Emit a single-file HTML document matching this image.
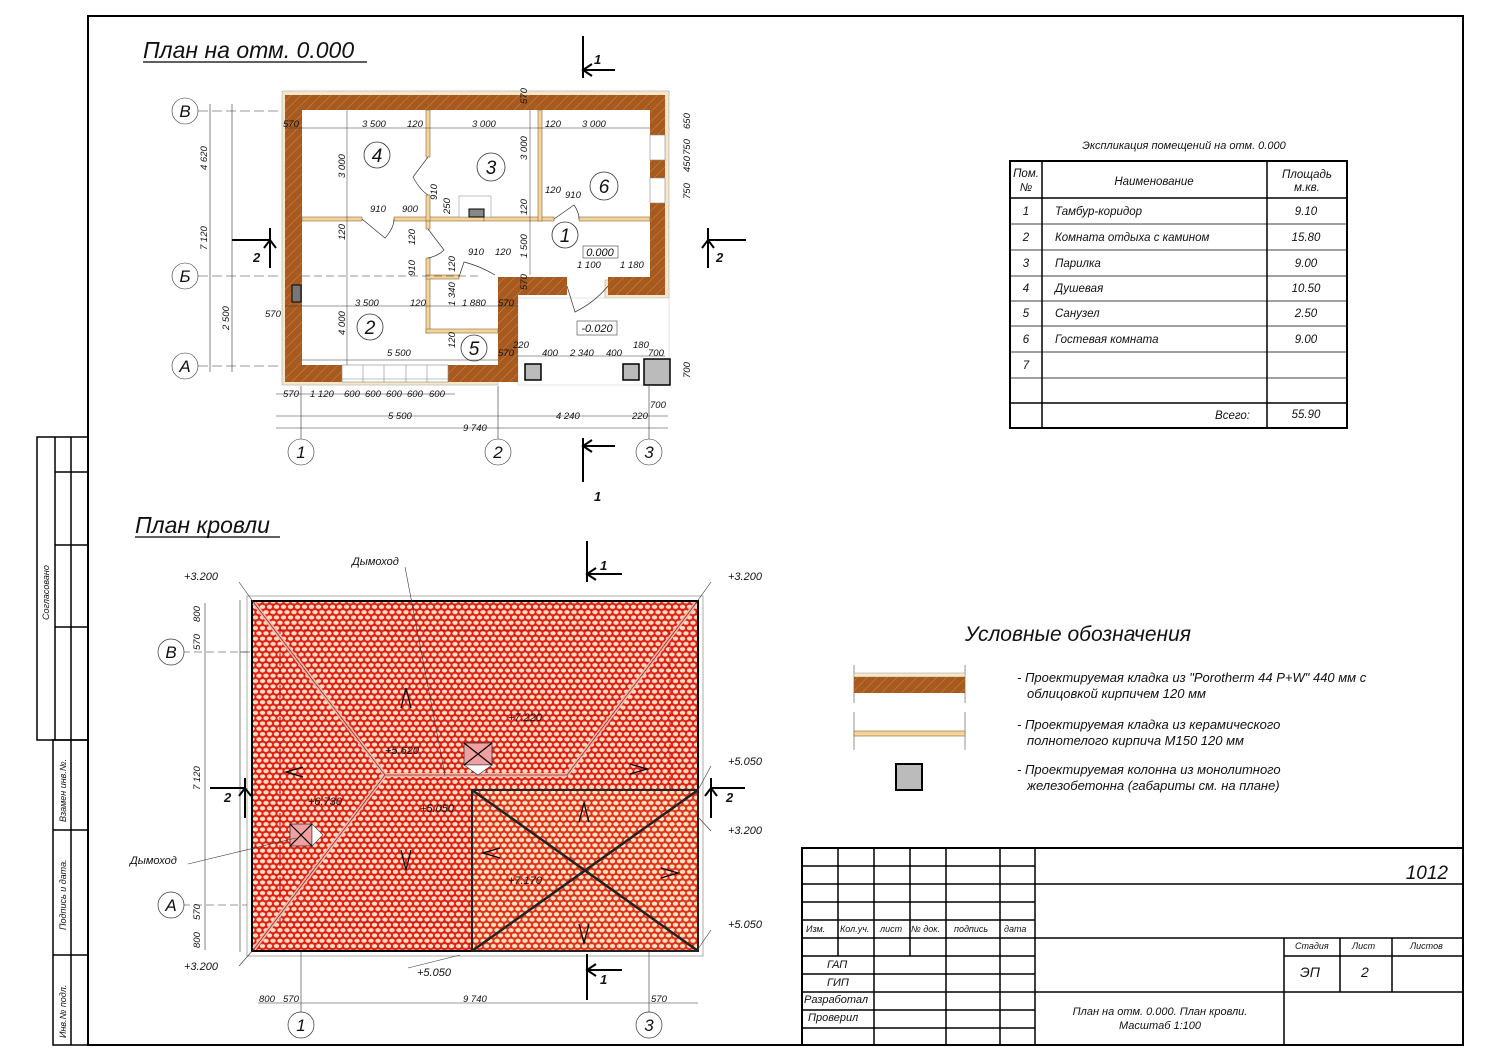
<!DOCTYPE html>
<html><head><meta charset="utf-8"><style>
html,body{margin:0;padding:0;background:#fff;}
svg{display:block;}
text{font-family:"Liberation Sans",sans-serif;font-style:italic;fill:#111;}
.d{font-size:9.5px;}
</style></head><body>
<svg width="1500" height="1061" viewBox="0 0 1500 1061" xmlns="http://www.w3.org/2000/svg">
<defs>
<pattern id="hatch" width="7" height="7" patternUnits="userSpaceOnUse" patternTransform="rotate(45)">
<rect width="7" height="7" fill="#a85a1e"/><line x1="0" y1="0" x2="0" y2="7" stroke="#c98a55" stroke-width="1"/>
</pattern>
<pattern id="tile" width="7" height="10.6" patternUnits="userSpaceOnUse">
<rect width="7" height="10.6" fill="#e01e12"/>
<ellipse cx="3.5" cy="2.65" rx="2.7" ry="2.0" fill="#fddcc4"/>
<ellipse cx="0" cy="7.95" rx="2.7" ry="2.0" fill="#fddcc4"/>
<ellipse cx="7" cy="7.95" rx="2.7" ry="2.0" fill="#fddcc4"/>
</pattern>
<pattern id="tile2" width="7" height="10.6" patternUnits="userSpaceOnUse">
<rect width="7" height="10.6" fill="#e0301a"/>
<ellipse cx="3.5" cy="2.65" rx="2.7" ry="2.0" fill="#fde2c0"/>
<ellipse cx="0" cy="7.95" rx="2.7" ry="2.0" fill="#fde2c0"/>
<ellipse cx="7" cy="7.95" rx="2.7" ry="2.0" fill="#fde2c0"/>
</pattern>
</defs>

<!-- frame -->
<rect x="88" y="16" width="1375" height="1029" fill="none" stroke="#000" stroke-width="2"/>
<g stroke="#000" stroke-width="1.5" fill="none">
<rect x="37" y="437" width="51" height="303"/>
<line x1="55" y1="437" x2="55" y2="740"/><line x1="71" y1="437" x2="71" y2="740"/>
<line x1="55" y1="472" x2="88" y2="472"/><line x1="55" y1="545" x2="88" y2="545"/><line x1="55" y1="627" x2="88" y2="627"/>
<rect x="53" y="740" width="35" height="305"/>
<line x1="71" y1="740" x2="71" y2="1045"/>
<line x1="53" y1="830" x2="88" y2="830"/><line x1="53" y1="955" x2="88" y2="955"/>
</g>
<text font-size="9" transform="translate(49,620) rotate(-90)">Согласовано</text>
<text font-size="9" transform="translate(66,822) rotate(-90)">Взамен инв.№.</text>
<text font-size="9" transform="translate(66,930) rotate(-90)">Подпись и дата.</text>
<text font-size="9" transform="translate(66,1038) rotate(-90)">Инв.№ подл.</text>

<!-- titles -->
<text x="143" y="58" font-size="23">План на отм. 0.000</text>
<line x1="143" y1="62" x2="367" y2="62" stroke="#000" stroke-width="1.2"/>
<text x="135" y="533" font-size="23">План кровли</text>
<line x1="135" y1="537" x2="280" y2="537" stroke="#000" stroke-width="1.2"/>

<!-- ============ FLOOR PLAN ============ -->
<g>
<path d="M282,91 H669 V298 H605 V280 H646 V106 H306 V361 H498 V385 H282 Z" fill="#f7e6c8" stroke="#bbb" stroke-width="0.8"/>
<path d="M518,298 H669 V385 H518 Z" fill="#fff" stroke="#ccc" stroke-width="0.6"/>
<!-- outer walls -->
<path d="M285,95 H665 V295 H608 V277 H650 V110 H302 V365 H342 V382 H285 Z" fill="url(#hatch)"/>
<rect x="448" y="365" width="70" height="17" fill="url(#hatch)"/>
<rect x="498" y="277" width="20" height="105" fill="url(#hatch)"/>
<rect x="498" y="277" width="69" height="18" fill="url(#hatch)"/>
<rect x="302" y="110" width="348" height="255" fill="none"/>
<path d="M302,110 H650 V277 H498 V365 H302 Z" fill="#fff"/>
<!-- windows on right -->
<rect x="650" y="135" width="15" height="25" fill="#fff" stroke="#888" stroke-width="0.6"/>
<rect x="650" y="178" width="15" height="25" fill="#fff" stroke="#888" stroke-width="0.6"/>
<!-- bottom window -->
<rect x="342" y="365" width="106" height="17" fill="#fff" stroke="#888" stroke-width="0.6"/>
<g stroke="#888" stroke-width="0.6"><line x1="363" y1="365" x2="363" y2="382"/><line x1="384" y1="365" x2="384" y2="382"/><line x1="406" y1="365" x2="406" y2="382"/><line x1="427" y1="365" x2="427" y2="382"/><line x1="342" y1="379" x2="448" y2="379"/></g>
<!-- partitions -->
<g fill="#f3d49c" stroke="#8a6a3a" stroke-width="0.6">
<rect x="302" y="217" width="60" height="4"/>
<rect x="394" y="217" width="90" height="4"/>
<rect x="484" y="217" width="70" height="4"/>
<rect x="579" y="217" width="71" height="4"/>
<rect x="426" y="110" width="4" height="47"/>
<rect x="426" y="195" width="4" height="26"/>
<rect x="426" y="221" width="4" height="8"/>
<rect x="538" y="110" width="4" height="111"/>
<rect x="426" y="258" width="4" height="75"/>
<rect x="426" y="329" width="72" height="4"/>
<rect x="426" y="275" width="33" height="4"/>
</g>
<!-- doors -->
<g fill="none" stroke="#333" stroke-width="0.7">
<path d="M362,219 L385,238 Q394,228 394,219"/>
<path d="M428,157 L413,177 Q420,190 428,195"/>
<path d="M428,229 L444,250 Q438,256 428,258"/>
<path d="M459,277 L464,262 Q480,266 495,275"/>
<path d="M554,219 L574,205 Q579,212 579,219"/>
<path d="M567,286 L575,312 Q595,302 608,286"/>
</g>
<!-- stove -->
<rect x="459" y="196" width="32" height="21" fill="#fff" stroke="#999" stroke-width="0.6"/>
<rect x="469" y="209" width="15" height="8" fill="#888" stroke="#000" stroke-width="1"/>
<rect x="292" y="285" width="9" height="17" fill="#777" stroke="#000" stroke-width="1"/>
<!-- columns -->
<g stroke="#000" stroke-width="1.5" fill="#bbb">
<rect x="525" y="364" width="16" height="16"/>
<rect x="623" y="364" width="16" height="16"/>
<rect x="644" y="359" width="26" height="26"/>
</g>
<!-- room labels -->
<g fill="#fff" stroke="#333" stroke-width="0.8">
<circle cx="377" cy="155" r="13"/><circle cx="491" cy="167" r="14"/><circle cx="604" cy="186" r="14"/>
<circle cx="565" cy="235" r="13"/><circle cx="370" cy="327" r="13"/><circle cx="474" cy="348" r="13"/>
</g>
<g font-size="19" text-anchor="middle" style="font-style:normal">
<text x="377" y="162">4</text><text x="491" y="174">3</text><text x="604" y="193">6</text>
<text x="565" y="242">1</text><text x="370" y="334">2</text><text x="474" y="355">5</text>
</g>
<rect x="583" y="246" width="35" height="12" fill="#fff" stroke="#444" stroke-width="0.6"/>
<text x="600" y="256" font-size="11" text-anchor="middle">0.000</text>
<rect x="577" y="321" width="40" height="14" fill="#fff" stroke="#444" stroke-width="0.6"/>
<text x="597" y="332" font-size="11" text-anchor="middle">-0.020</text>
<!-- interior dim lines -->
<g stroke="#333" stroke-width="0.5">
<line x1="285" y1="128" x2="650" y2="128"/>
<line x1="347" y1="110" x2="347" y2="365"/>
<line x1="530" y1="110" x2="530" y2="275"/>
<line x1="285" y1="306" x2="518" y2="306"/>
<line x1="302" y1="360" x2="498" y2="360"/>
<line x1="518" y1="356" x2="665" y2="356"/>
<line x1="302" y1="276" x2="480" y2="276" stroke-dasharray="8 4"/>
</g>
<g class="d">
<text x="283" y="127" class="d">570</text><text x="362" y="127" class="d">3 500</text><text x="407" y="127" class="d">120</text>
<text x="472" y="127" class="d">3 000</text><text x="545" y="127" class="d">120</text><text x="582" y="127" class="d">3 000</text>
<text x="370" y="212" class="d">910</text><text x="402" y="212" class="d">900</text>
<text x="545" y="193" class="d">120</text><text x="565" y="198" class="d">910</text>
<text x="468" y="255" class="d">910</text><text x="495" y="255" class="d">120</text>
<text x="577" y="268" class="d">1 100</text><text x="620" y="268" class="d">1 180</text>
<text x="355" y="306" class="d">3 500</text><text x="410" y="306" class="d">120</text>
<text x="462" y="306" class="d">1 880</text><text x="498" y="306" class="d">570</text>
<text x="387" y="356" class="d">5 500</text><text x="498" y="356" class="d">570</text>
<text x="513" y="348" class="d">220</text><text x="542" y="356" class="d">400</text><text x="570" y="356" class="d">2 340</text>
<text x="606" y="356" class="d">400</text><text x="633" y="348" class="d">180</text><text x="648" y="356" class="d">700</text>
<text x="265" y="317" class="d">570</text>
</g>
<g class="d">
<text transform="translate(345,178) rotate(-90)" class="d">3 000</text>
<text transform="translate(527,160) rotate(-90)" class="d">3 000</text>
<text transform="translate(527,104) rotate(-90)" class="d">570</text>
<text transform="translate(345,240) rotate(-90)" class="d">120</text>
<text transform="translate(345,335) rotate(-90)" class="d">4 000</text>
<text transform="translate(437,200) rotate(-90)" class="d">910</text>
<text transform="translate(450,214) rotate(-90)" class="d">250</text>
<text transform="translate(527,215) rotate(-90)" class="d">120</text>
<text transform="translate(527,258) rotate(-90)" class="d">1 500</text>
<text transform="translate(527,290) rotate(-90)" class="d">570</text>
<text transform="translate(415,245) rotate(-90)" class="d">120</text>
<text transform="translate(415,276) rotate(-90)" class="d">910</text>
<text transform="translate(455,272) rotate(-90)" class="d">120</text>
<text transform="translate(455,306) rotate(-90)" class="d">1 340</text>
<text transform="translate(455,348) rotate(-90)" class="d">120</text>
<text transform="translate(690,129) rotate(-90)" class="d">650</text>
<text transform="translate(690,155) rotate(-90)" class="d">750</text>
<text transform="translate(690,172) rotate(-90)" class="d">450</text>
<text transform="translate(690,199) rotate(-90)" class="d">750</text>
<text transform="translate(690,378) rotate(-90)" class="d">700</text>
</g>
<!-- axes -->
<g stroke="#333" stroke-width="0.6" fill="none">
<line x1="198" y1="111" x2="282" y2="111" stroke-dasharray="10 4"/>
<line x1="198" y1="276" x2="282" y2="276" stroke-dasharray="10 4"/>
<line x1="198" y1="366" x2="282" y2="366" stroke-dasharray="10 4"/>
<line x1="210" y1="104" x2="210" y2="372"/><line x1="232" y1="104" x2="232" y2="372"/>
<line x1="301" y1="386" x2="301" y2="439"/><line x1="498" y1="386" x2="498" y2="439"/><line x1="649" y1="386" x2="649" y2="439"/>
<line x1="276" y1="394" x2="455" y2="394"/><line x1="276" y1="416" x2="668" y2="416"/><line x1="276" y1="428" x2="668" y2="428"/>
<circle cx="185" cy="111" r="13"/><circle cx="185" cy="276" r="13"/><circle cx="185" cy="366" r="13"/>
<circle cx="301" cy="452" r="13"/><circle cx="498" cy="452" r="13"/><circle cx="649" cy="452" r="13"/>
</g>
<g font-size="17" text-anchor="middle">
<text x="185" y="117">В</text><text x="185" y="282">Б</text><text x="185" y="372">А</text>
<text x="301" y="458">1</text><text x="498" y="458">2</text><text x="649" y="458">3</text>
</g>
<g class="d">
<text transform="translate(207,170) rotate(-90)" class="d">4 620</text>
<text transform="translate(207,250) rotate(-90)" class="d">7 120</text>
<text transform="translate(229,330) rotate(-90)" class="d">2 500</text>
<text x="283" y="397" class="d">570</text><text x="310" y="397" class="d">1 120</text><text x="344" y="397" class="d">600</text>
<text x="365" y="397" class="d">600</text><text x="386" y="397" class="d">600</text><text x="407" y="397" class="d">600</text><text x="429" y="397" class="d">600</text>
<text x="388" y="419" class="d">5 500</text><text x="556" y="419" class="d">4 240</text><text x="632" y="419" class="d">220</text>
<text x="650" y="408" class="d">700</text><text x="463" y="431" class="d">9 740</text>
</g>
<!-- section marks -->
<g stroke="#000" stroke-width="2" fill="none">
<path d="M583,36 V78 M583,70 H615"/><path d="M592,64 L583,70 L592,76"/>
<path d="M583,438 V482 M583,446 H615"/><path d="M592,440 L583,446 L592,452"/>
<path d="M270,228 V268 M232,240 H270"/><path d="M264,248 L270,240 L276,248"/>
<path d="M708,228 V268 M708,240 H746"/><path d="M702,248 L708,240 L714,248"/>
</g>
<g font-size="13" font-weight="bold">
<text x="594" y="64">1</text><text x="594" y="501">1</text><text x="253" y="262">2</text><text x="716" y="262">2</text>
</g>
</g>

<!-- ============ TABLE ============ -->
<text x="1184" y="149" font-size="11" text-anchor="middle">Экспликация помещений на отм. 0.000</text>
<g stroke="#000" fill="none">
<rect x="1010" y="161" width="337" height="267" stroke-width="2"/>
<line x1="1042" y1="161" x2="1042" y2="428" stroke-width="1.5"/>
<line x1="1267" y1="161" x2="1267" y2="428" stroke-width="1.5"/>
<line x1="1010" y1="198" x2="1347" y2="198" stroke-width="1.5"/>
<g stroke-width="0.8"><line x1="1010" y1="224" x2="1347" y2="224"/><line x1="1010" y1="250" x2="1347" y2="250"/><line x1="1010" y1="276" x2="1347" y2="276"/><line x1="1010" y1="301" x2="1347" y2="301"/><line x1="1010" y1="326" x2="1347" y2="326"/><line x1="1010" y1="352" x2="1347" y2="352"/><line x1="1010" y1="378" x2="1347" y2="378"/></g>
<line x1="1010" y1="403" x2="1347" y2="403" stroke-width="1.5"/>
</g>
<g font-size="11.5" style="font-style:normal">
<text x="1026" y="177" text-anchor="middle">Пом.</text><text x="1026" y="191" text-anchor="middle">№</text>
<text x="1154" y="185" text-anchor="middle">Наименование</text>
<text x="1307" y="178" text-anchor="middle">Площадь</text><text x="1307" y="191" text-anchor="middle">м.кв.</text>
<text x="1026" y="215" text-anchor="middle">1</text><text x="1026" y="241" text-anchor="middle">2</text><text x="1026" y="267" text-anchor="middle">3</text>
<text x="1026" y="292" text-anchor="middle">4</text><text x="1026" y="317" text-anchor="middle">5</text><text x="1026" y="343" text-anchor="middle">6</text><text x="1026" y="369" text-anchor="middle">7</text>
</g>
<g font-size="11.5">
<text x="1055" y="215">Тамбур-коридор</text><text x="1055" y="241">Комната отдыха с камином</text><text x="1055" y="267">Парилка</text>
<text x="1055" y="292">Душевая</text><text x="1055" y="317">Санузел</text><text x="1055" y="343">Гостевая комната</text>
<text x="1250" y="419" text-anchor="end">Всего:</text>
</g>
<g font-size="11.5" text-anchor="middle" style="font-style:normal">
<text x="1306" y="215">9.10</text><text x="1306" y="241">15.80</text><text x="1306" y="267">9.00</text><text x="1306" y="292">10.50</text>
<text x="1306" y="317">2.50</text><text x="1306" y="343">9.00</text><text x="1306" y="418">55.90</text>
</g>

<!-- ============ LEGEND ============ -->
<text x="965" y="641" font-size="21">Условные обозначения</text>
<g>
<line x1="854" y1="665" x2="854" y2="703" stroke="#666" stroke-width="0.7"/><line x1="965" y1="665" x2="965" y2="703" stroke="#666" stroke-width="0.7"/>
<rect x="854" y="673" width="111" height="4" fill="#f7e6c8" stroke="#999" stroke-width="0.5"/>
<rect x="854" y="677" width="111" height="16" fill="url(#hatch)"/>
<line x1="854" y1="712" x2="854" y2="750" stroke="#666" stroke-width="0.7"/><line x1="965" y1="712" x2="965" y2="750" stroke="#666" stroke-width="0.7"/>
<rect x="854" y="731" width="111" height="5" fill="#f3d49c" stroke="#8a6a3a" stroke-width="0.6"/>
<rect x="896" y="764" width="26" height="26" fill="#bbb" stroke="#000" stroke-width="2"/>
</g>
<g font-size="13">
<text x="1017" y="682">- Проектируемая кладка из "Porotherm 44 P+W" 440 мм с</text>
<text x="1027" y="698">облицовкой кирпичем 120 мм</text>
<text x="1017" y="729">- Проектируемая кладка из керамического</text>
<text x="1027" y="745">полнотелого кирпича М150 120 мм</text>
<text x="1017" y="774">- Проектируемая колонна из монолитного</text>
<text x="1027" y="790">железобетонна (габариты см. на плане)</text>
</g>

<!-- ============ ROOF ============ -->
<g>
<rect x="247" y="596" width="456" height="360" fill="none" stroke="#999" stroke-width="0.8"/>
<rect x="252" y="601" width="446" height="350" fill="url(#tile)" stroke="#000" stroke-width="2"/>
<rect x="280" y="630" width="390" height="292" fill="none" stroke="#c01010" stroke-width="1" stroke-dasharray="5 3"/>
<g stroke="#f4b8a8" stroke-width="4"><line x1="254" y1="603" x2="385" y2="775"/><line x1="254" y1="949" x2="385" y2="775"/><line x1="696" y1="603" x2="567" y2="775"/><line x1="385" y1="775" x2="567" y2="775"/></g>
<g stroke="#a02020" stroke-width="0.8"><line x1="254" y1="603" x2="385" y2="775"/><line x1="254" y1="949" x2="385" y2="775"/><line x1="696" y1="603" x2="567" y2="775"/><line x1="385" y1="775" x2="567" y2="775"/></g>
<rect x="472" y="790" width="226" height="161" fill="url(#tile2)" stroke="#222" stroke-width="2"/>
<g stroke="#222" stroke-width="2.5"><line x1="472" y1="951" x2="698" y2="790"/><line x1="472" y1="790" x2="698" y2="951"/></g>
<!-- chimneys -->
<rect x="464" y="743" width="28" height="22" fill="#f0a0a0" stroke="#333" stroke-width="0.8"/>
<path d="M464,743 L492,765 M492,743 L464,765" stroke="#000" stroke-width="1.2"/>
<path d="M464,765 L478,775 L492,765 Z" fill="#fff" stroke="#333" stroke-width="0.6"/>
<rect x="290" y="824" width="22" height="22" fill="#f0a0a0" stroke="#333" stroke-width="0.8"/>
<path d="M290,824 L312,846 M312,824 L290,846" stroke="#000" stroke-width="1.2"/>
<path d="M312,824 L323,835 L312,846 Z" fill="#fff" stroke="#333" stroke-width="0.6"/>
<!-- slope arrows -->
<g stroke="#000" stroke-width="1.3" fill="none">
<path d="M401,708 L406,688 L411,708"/><path d="M401,850 L406,870 L411,850"/>
<path d="M303,767 L286,772 L303,777"/><path d="M630,764 L647,769 L630,774"/>
<path d="M579,822 L584,803 L589,822"/><path d="M579,924 L584,943 L589,924"/>
<path d="M500,848 L483,853 L500,858"/><path d="M661,868 L678,873 L661,878"/>
</g>
<g font-size="11"><text x="385" y="754">+5.620</text><text x="508" y="721">+7.220</text><text x="308" y="805">+6.730</text><text x="420" y="812">+5.050</text><text x="508" y="884">+7.170</text></g>
<!-- leaders -->
<g stroke="#333" stroke-width="0.6" fill="none">
<line x1="405" y1="567" x2="445" y2="775"/><line x1="188" y1="864" x2="296" y2="838"/>
<line x1="239" y1="582" x2="254" y2="603"/><line x1="711" y1="582" x2="696" y2="603"/>
<line x1="239" y1="966" x2="254" y2="949"/><line x1="711" y1="766" x2="698" y2="790"/>
<line x1="711" y1="831" x2="698" y2="817"/><line x1="711" y1="930" x2="698" y2="949"/>
<line x1="408" y1="968" x2="460" y2="955"/>
<line x1="240" y1="600" x2="240" y2="952"/><line x1="240" y1="652" x2="250" y2="652"/>
<line x1="258" y1="1003" x2="698" y2="1003"/>
<line x1="301" y1="952" x2="301" y2="1014"/><line x1="649" y1="952" x2="649" y2="1014"/>
<line x1="170" y1="652" x2="247" y2="652" stroke-dasharray="8 4"/><line x1="170" y1="905" x2="247" y2="905" stroke-dasharray="8 4"/>
</g>
<g font-size="11" style="font-style:normal">
<text x="184" y="580">+3.200</text><text x="728" y="580">+3.200</text><text x="184" y="970">+3.200</text>
<text x="728" y="765">+5.050</text><text x="728" y="834">+3.200</text><text x="728" y="928">+5.050</text>
<text x="417" y="976">+5.050</text>
<text x="352" y="565">Дымоход</text><text x="130" y="864">Дымоход</text>
</g>
<g class="d"><text x="259" y="1002" class="d">800</text><text x="283" y="1002" class="d">570</text><text x="463" y="1002" class="d">9 740</text><text x="651" y="1002" class="d">570</text>
<text transform="translate(200,622) rotate(-90)" class="d">800</text><text transform="translate(200,650) rotate(-90)" class="d">570</text>
<text transform="translate(200,790) rotate(-90)" class="d">7 120</text><text transform="translate(200,920) rotate(-90)" class="d">570</text><text transform="translate(200,948) rotate(-90)" class="d">800</text></g>
<g stroke="#333" stroke-width="0.6" fill="none"><line x1="205" y1="603" x2="205" y2="950"/></g>
<g stroke="#333" stroke-width="0.7" fill="#fff"><circle cx="171" cy="652" r="13"/><circle cx="171" cy="905" r="13"/><circle cx="301" cy="1025" r="13"/><circle cx="649" cy="1025" r="13"/></g>
<g font-size="17" text-anchor="middle"><text x="171" y="658">В</text><text x="171" y="911">А</text><text x="301" y="1031">1</text><text x="649" y="1031">3</text></g>
<g stroke="#000" stroke-width="2" fill="none">
<path d="M587,541 V582 M587,574 H622"/><path d="M596,568 L587,574 L596,580"/>
<path d="M587,954 V1000 M587,970 H622"/><path d="M596,964 L587,970 L596,976"/>
<path d="M245,778 V818 M210,788 H245"/><path d="M239,796 L245,788 L251,796"/>
<path d="M711,778 V818 M711,788 H745"/><path d="M705,796 L711,788 L717,796"/>
</g>
<g font-size="13" font-weight="bold"><text x="600" y="570">1</text><text x="600" y="984">1</text><text x="224" y="802">2</text><text x="726" y="802">2</text></g>
</g>

<!-- ============ TITLE BLOCK ============ -->
<g stroke="#000" fill="none">
<rect x="802" y="848" width="661" height="197" stroke-width="2"/>
<g stroke-width="1.5">
<line x1="838" y1="848" x2="838" y2="956"/><line x1="874" y1="848" x2="874" y2="1045"/><line x1="910" y1="848" x2="910" y2="956"/>
<line x1="946" y1="848" x2="946" y2="1045"/><line x1="1000" y1="848" x2="1000" y2="1045"/><line x1="1035" y1="848" x2="1035" y2="1045"/>
<line x1="802" y1="866" x2="1035" y2="866"/><line x1="802" y1="884" x2="1463" y2="884"/><line x1="802" y1="902" x2="1035" y2="902"/>
<line x1="802" y1="920" x2="1035" y2="920"/><line x1="802" y1="938" x2="1463" y2="938"/><line x1="802" y1="956" x2="1035" y2="956"/>
<line x1="802" y1="974" x2="1035" y2="974"/><line x1="802" y1="992" x2="1463" y2="992"/><line x1="802" y1="1010" x2="1035" y2="1010"/><line x1="802" y1="1028" x2="1035" y2="1028"/>
<line x1="1284" y1="938" x2="1284" y2="1045"/><line x1="1340" y1="938" x2="1340" y2="992"/><line x1="1392" y1="938" x2="1392" y2="992"/>
<line x1="1284" y1="956" x2="1463" y2="956"/>
</g>
</g>
<g font-size="9">
<text x="806" y="932">Изм.</text><text x="840" y="932">Кол.уч.</text><text x="880" y="932">лист</text><text x="911" y="932">№ док.</text><text x="954" y="932">подпись</text><text x="1004" y="932">дата</text>
<text x="1295" y="949">Стадия</text><text x="1352" y="949">Лист</text><text x="1410" y="949">Листов</text>
</g>
<g font-size="11">
<text x="827" y="968">ГАП</text><text x="827" y="986">ГИП</text><text x="804" y="1003">Разработал</text><text x="808" y="1021">Проверил</text>
<text x="1160" y="1015" text-anchor="middle">План на отм. 0.000. План кровли.</text>
<text x="1160" y="1029" text-anchor="middle">Масштаб 1:100</text>
</g>
<text x="1300" y="977" font-size="14">ЭП</text><text x="1361" y="977" font-size="14">2</text>
<text x="1448" y="879" font-size="19" text-anchor="end">1012</text>
</svg>
</body></html>
